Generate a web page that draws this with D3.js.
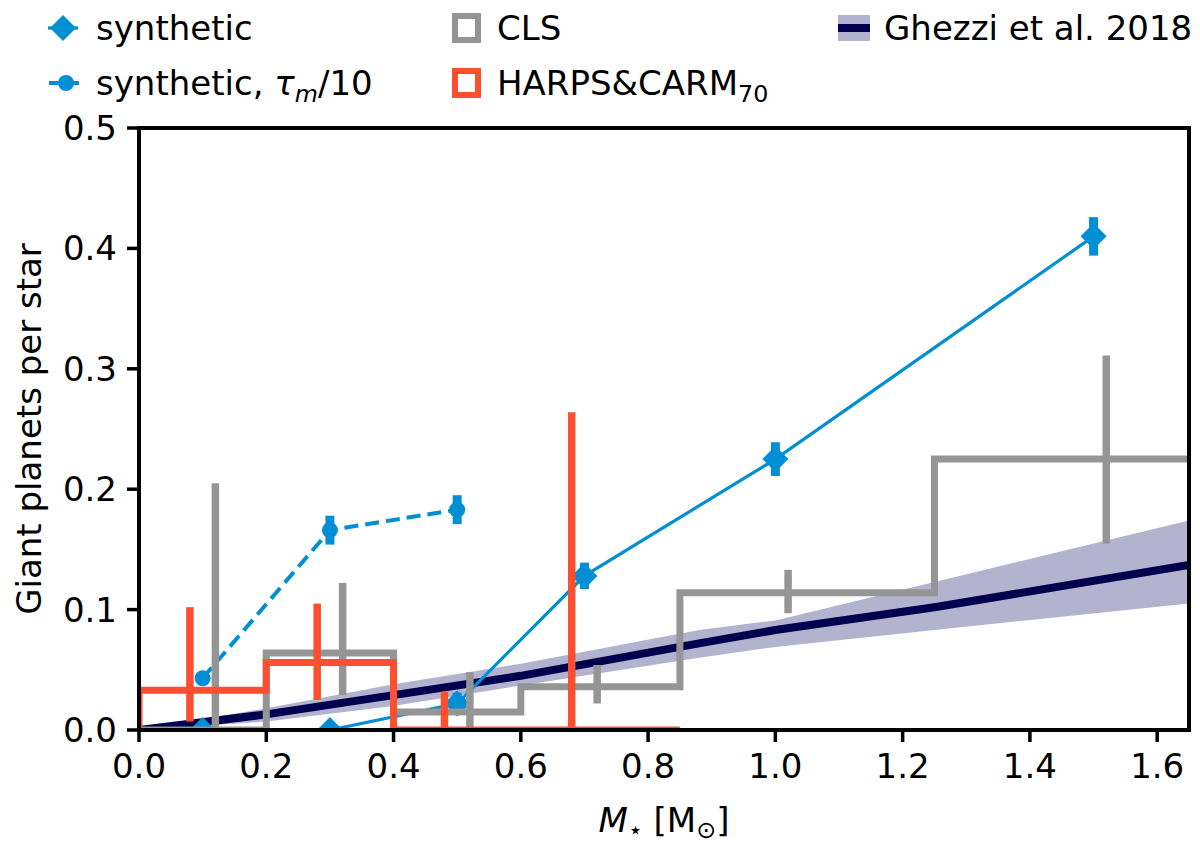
<!DOCTYPE html>
<html><head><meta charset="utf-8">
<script src="https://cdn.jsdelivr.net/npm/d3@7"></script>
<style>
body{margin:0;background:#fff;}
text{font-family:"DejaVu Sans",sans-serif;fill:#000;}
</style></head>
<body>
<svg id="c" width="1200" height="846"></svg>
<script>
// ---- data ----
const synthM   = [0.1, 0.3, 0.5, 0.7, 1.0, 1.5];
const synthF   = [0.0, 0.0, 0.022, 0.128, 0.225, 0.410];
const synthErr = [0.004, 0.004, 0.009, 0.011, 0.014, 0.016];

const fastM   = [0.1, 0.3, 0.5];
const fastF   = [0.043, 0.166, 0.183];
const fastErr = [0.004, 0.012, 0.012];

const clsEdges = [0, 0.2, 0.4, 0.6, 0.85, 1.25, 1.65];
const clsF     = [0, 0.064, 0.015, 0.036, 0.114, 0.225];
const clsErrM  = [0.12, 0.32, 0.52, 0.72, 1.02, 1.52];
const clsLo    = [0, 0.029, 0, 0.022, 0.097, 0.155];
const clsHi    = [0.205, 0.122, 0.048, 0.054, 0.133, 0.311];

const harpsEdges = [0, 0.2, 0.4, 0.6, 0.85];
const harpsF     = [0.033, 0.056, 0, 0];
const harpsErrM  = [0.08, 0.28, 0.48, 0.68];
const harpsLo    = [0.007, 0.025, 0, 0];
const harpsHi    = [0.102, 0.105, 0.032, 0.264];

const ghM     = [0, 0.2, 0.4, 0.6, 0.88, 1.0, 1.25, 1.65];
const ghLine  = [0, 0.013, 0.029, 0.045, 0.072, 0.083, 0.102, 0.137];
const ghUpper = [0, 0.018, 0.038, 0.055, 0.083, 0.091, 0.123, 0.174];
const ghLower = [0, 0.007, 0.020, 0.037, 0.060, 0.069, 0.083, 0.105];

const xTicks = [0, 0.2, 0.4, 0.6, 0.8, 1.0, 1.2, 1.4, 1.6];
const yTicks = [0, 0.1, 0.2, 0.3, 0.4, 0.5];

// ---- styles ----
const BLUE = "#008fd5", RED = "#fc4f30", GREY = "#959595", NAVY = "#00004f", BAND = "#b3b3cf";
const FS = 34;

const svg = d3.select("#c");
const L = 139, R = 1189, T = 128, B = 730;
const x = d3.scaleLinear().domain([0, 1.65]).range([L, R]);
const y = d3.scaleLinear().domain([0, 0.5]).range([B, T]);

svg.append("defs").append("clipPath").attr("id", "clip")
  .append("rect").attr("x", L).attr("y", T).attr("width", R - L).attr("height", B - T);
const g = svg.append("g").attr("clip-path", "url(#clip)");

// Ghezzi band + line
const gh = ghM.map((m, i) => ({m, f: ghLine[i], lo: ghLower[i], hi: ghUpper[i]}));
g.append("path").datum(gh).attr("fill", BAND)
  .attr("d", d3.area().x(d => x(d.m)).y0(d => y(d.lo)).y1(d => y(d.hi)));
g.append("path").datum(gh).attr("fill", "none").attr("stroke", NAVY).attr("stroke-width", 8)
  .attr("d", d3.line().x(d => x(d.m)).y(d => y(d.f)));

// synthetic series
function series(M, F, E, dashed, marker) {
  const pts = M.map((m, i) => ({m, f: F[i], e: E[i]}));
  g.append("path").datum(pts).attr("fill", "none").attr("stroke", BLUE)
    .attr("stroke-width", dashed ? 4 : 3.2)
    .attr("stroke-dasharray", dashed ? "14,7" : null)
    .attr("d", d3.line().x(d => x(d.m)).y(d => y(d.f)));
  g.selectAll(null).data(pts).join("line")
    .attr("x1", d => x(d.m)).attr("x2", d => x(d.m))
    .attr("y1", d => y(d.f - d.e)).attr("y2", d => y(d.f + d.e))
    .attr("stroke", BLUE).attr("stroke-width", 9);
  if (marker === "D") {
    g.selectAll(null).data(pts).join("path")
      .attr("transform", d => `translate(${x(d.m)},${y(d.f)})`)
      .attr("d", "M0,-13L13,0L0,13L-13,0Z").attr("fill", BLUE);
  } else {
    g.selectAll(null).data(pts).join("circle")
      .attr("cx", d => x(d.m)).attr("cy", d => y(d.f)).attr("r", 8).attr("fill", BLUE);
  }
}
series(synthM, synthF, synthErr, false, "D");
series(fastM, fastF, fastErr, true, "o");

// step histograms
function stepHist(edges, vals, errM, lo, hi, color) {
  const pts = [[edges[0], 0]];
  vals.forEach((v, i) => pts.push([edges[i], v]));
  pts.push([edges[edges.length - 1], vals[vals.length - 1]]);
  g.append("path").datum(pts).attr("fill", "none").attr("stroke", color).attr("stroke-width", 7)
    .attr("stroke-linejoin", "miter")
    .attr("d", d3.line().x(d => x(d[0])).y(d => y(d[1])).curve(d3.curveStepAfter));
  g.selectAll(null).data(errM).join("line")
    .attr("x1", d => x(d)).attr("x2", d => x(d))
    .attr("y1", (d, i) => y(lo[i])).attr("y2", (d, i) => y(hi[i]))
    .attr("stroke", color).attr("stroke-width", 7.5);
}
stepHist(clsEdges, clsF, clsErrM, clsLo, clsHi, GREY);
stepHist(harpsEdges, harpsF, harpsErrM, harpsLo, harpsHi, RED);

// axes
const ax = svg.append("g");
ax.append("rect").attr("x", L).attr("y", T).attr("width", R - L).attr("height", B - T)
  .attr("fill", "none").attr("stroke", "#000").attr("stroke-width", 4);
ax.selectAll(null).data(xTicks).join("line")
  .attr("x1", d => x(d)).attr("x2", d => x(d)).attr("y1", B).attr("y2", B + 12)
  .attr("stroke", "#000").attr("stroke-width", 3.5);
ax.selectAll(null).data(xTicks).join("text")
  .attr("x", d => x(d)).attr("y", B + 48).attr("text-anchor", "middle").attr("font-size", FS)
  .text(d => d.toFixed(1));
ax.selectAll(null).data(yTicks).join("line")
  .attr("x1", L - 12).attr("x2", L).attr("y1", d => y(d)).attr("y2", d => y(d))
  .attr("stroke", "#000").attr("stroke-width", 3.5);
ax.selectAll(null).data(yTicks).join("text")
  .attr("x", L - 22).attr("y", d => y(d) + 12).attr("text-anchor", "end").attr("font-size", FS)
  .text(d => d.toFixed(1));

// axis labels
const xl = svg.append("text").attr("x", (L + R) / 2).attr("y", 832).attr("text-anchor", "middle").attr("font-size", FS);
xl.append("tspan").attr("font-style", "italic").text("M");
xl.append("tspan").attr("font-size", FS * 0.7).attr("dy", 6).text("⋆");
xl.append("tspan").attr("dy", -6).text(" [M");
xl.append("tspan").attr("font-size", FS * 0.7).attr("dy", 6).text("⊙");
xl.append("tspan").attr("dy", -6).text("]");

svg.append("text").attr("transform", `translate(41,${(T + B) / 2}) rotate(-90)`)
  .attr("text-anchor", "middle").attr("font-size", FS).text("Giant planets per star");

// legend
const lg = svg.append("g");
// synthetic
lg.append("line").attr("x1", 48).attr("x2", 78).attr("y1", 28).attr("y2", 28).attr("stroke", BLUE).attr("stroke-width", 3.2);
lg.append("path").attr("transform", "translate(63,28)").attr("d", "M0,-13L13,0L0,13L-13,0Z").attr("fill", BLUE);
lg.append("text").attr("x", 96).attr("y", 40).attr("font-size", FS).text("synthetic");
// tau
lg.append("line").attr("x1", 49).attr("x2", 80).attr("y1", 83).attr("y2", 83).attr("stroke", BLUE).attr("stroke-width", 4).attr("stroke-dasharray", "9,12");
lg.append("circle").attr("cx", 66).attr("cy", 83).attr("r", 8).attr("fill", BLUE);
const t2 = lg.append("text").attr("x", 96).attr("y", 95).attr("font-size", FS);
t2.append("tspan").text("synthetic, ");
t2.append("tspan").attr("font-style", "italic").text("τ");
t2.append("tspan").attr("font-style", "italic").attr("font-size", FS * 0.7).attr("dy", 7).text("m");
t2.append("tspan").attr("dy", -7).text("/10");
// CLS
lg.append("rect").attr("x", 455).attr("y", 16).attr("width", 23).attr("height", 24).attr("fill", "none").attr("stroke", GREY).attr("stroke-width", 6);
lg.append("text").attr("x", 497).attr("y", 40).attr("font-size", FS).text("CLS");
// HARPS
lg.append("rect").attr("x", 455).attr("y", 71).attr("width", 23).attr("height", 24).attr("fill", "none").attr("stroke", RED).attr("stroke-width", 6);
const t4 = lg.append("text").attr("x", 497).attr("y", 95).attr("font-size", FS);
t4.append("tspan").text("HARPS&CARM");
t4.append("tspan").attr("font-size", FS * 0.7).attr("dy", 7).text("70");
// Ghezzi
lg.append("rect").attr("x", 838).attr("y", 15).attr("width", 32).attr("height", 26).attr("fill", BAND);
lg.append("line").attr("x1", 838).attr("x2", 870).attr("y1", 28).attr("y2", 28).attr("stroke", NAVY).attr("stroke-width", 8);
lg.append("text").attr("x", 884).attr("y", 40).attr("font-size", FS).text("Ghezzi et al. 2018");
</script>
</body></html>
